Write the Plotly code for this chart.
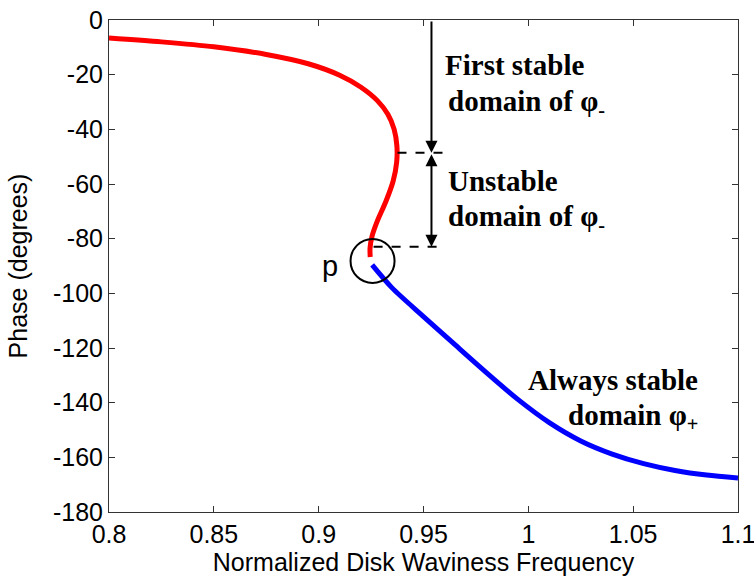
import plotly.graph_objects as go

# First-stable / unstable branch (phi-), red
red_x = [0.800, 0.825, 0.850, 0.875, 0.895, 0.910, 0.920, 0.928, 0.933, 0.936,
         0.9373, 0.9372, 0.9355, 0.932, 0.928, 0.9255, 0.9245, 0.9246]
red_y = [-6.6, -8.0, -9.8, -12.6, -16.0, -20.2, -24.5, -29.5, -34.5, -40.0,
         -46.0, -52.0, -59.0, -66.5, -73.5, -79.0, -83.5, -86.7]

# Always stable branch (phi+), blue
blue_x = [0.9255, 0.935, 0.950, 0.965, 0.980, 0.995, 1.010, 1.025, 1.040, 1.055,
          1.070, 1.085, 1.100]
blue_y = [-89.6, -98.0, -108.5, -118.8, -129.0, -138.8, -147.3, -154.0, -158.8, -162.3,
          -164.8, -166.5, -167.6]

x_ticks = [0.8, 0.85, 0.9, 0.95, 1.0, 1.05, 1.1]
x_tick_labels = ["0.8", "0.85", "0.9", "0.95", "1", "1.05", "1.1"]
y_ticks = [0, -20, -40, -60, -80, -100, -120, -140, -160, -180]
y_tick_labels = ["0", "-20", "-40", "-60", "-80", "-100", "-120", "-140", "-160", "-180"]

fig = go.Figure()
fig.add_trace(go.Scatter(x=red_x, y=red_y, mode="lines",
                         line=dict(color="#ff0000", width=5, shape="spline", smoothing=0.8),
                         showlegend=False, hoverinfo="skip"))
fig.add_trace(go.Scatter(x=blue_x, y=blue_y, mode="lines",
                         line=dict(color="#0000ff", width=5, shape="spline", smoothing=0.8),
                         showlegend=False, hoverinfo="skip"))

# circle around point p
fig.add_shape(type="circle", xref="x", yref="y", x0=0.9152, x1=0.9362, y0=-96.2, y1=-80.1,
              line=dict(color="black", width=2))
# dashed boundary lines
fig.add_shape(type="line", xref="x", yref="y", x0=0.9376, x1=0.9614, y0=-48.6, y1=-48.6,
              line=dict(color="black", width=2, dash="dash"))
fig.add_shape(type="line", xref="x", yref="y", x0=0.9262, x1=0.9600, y0=-83.0, y1=-83.0,
              line=dict(color="black", width=2, dash="dash"))

arrow_x = 0.9538
fig.add_annotation(x=arrow_x, y=-48.6, ax=arrow_x, ay=0, xref="x", yref="y", axref="x", ayref="y",
                   text="", showarrow=True, arrowhead=2, arrowsize=1.2, arrowwidth=2, arrowcolor="black")
fig.add_annotation(x=arrow_x, y=-83.0, ax=arrow_x, ay=-48.6, xref="x", yref="y", axref="x", ayref="y",
                   text="", showarrow=True, arrowhead=2, startarrowhead=2, arrowside="end+start",
                   arrowsize=1.2, startarrowsize=1.2, arrowwidth=2, arrowcolor="black")

serif = dict(family="Liberation Serif", size=29, color="black")
labels = [
    ("<b>First stable</b>", 0.9595, -16.4, "left"),
    ("<b>domain of φ<sub>-</sub></b>", 0.9605, -30.2, "left"),
    ("<b>Unstable</b>", 0.9605, -58.9, "left"),
    ("<b>domain of φ<sub>-</sub></b>", 0.9605, -72.6, "left"),
    ("<b>Always stable</b>", 1.0820, -131.7, "right"),
    ("<b>domain φ<sub>+</sub></b>", 1.0820, -145.3, "right"),
]
for t, x, y, anc in labels:
    fig.add_annotation(x=x, y=y, xref="x", yref="y", text=t, showarrow=False,
                       xanchor=anc, yanchor="middle", font=serif)

fig.add_annotation(x=0.9055, y=-90.0, xref="x", yref="y", text="p", showarrow=False,
                   xanchor="center", yanchor="middle",
                   font=dict(family="Liberation Sans", size=29, color="black"))

axis_common = dict(showgrid=False, zeroline=False, showline=True, linecolor="#333333",
                   linewidth=1, mirror="ticks", ticks="inside", ticklen=6, tickcolor="#333333",
                   automargin=False, ticklabeloverflow="allow",
                   tickfont=dict(family="Liberation Sans", size=25, color="black"))

fig.update_xaxes(range=[0.8, 1.1], tickvals=x_ticks, ticktext=x_tick_labels,
                 title=dict(text="Normalized Disk Waviness Frequency", standoff=5,
                            font=dict(family="Liberation Sans", size=25, color="black")),
                 **axis_common)
fig.update_yaxes(range=[-180, 0], tickvals=y_ticks, ticktext=y_tick_labels,
                 title=dict(text="Phase (degrees)", standoff=18,
                            font=dict(family="Liberation Sans", size=25, color="black")),
                 **axis_common)

fig.update_layout(width=754, height=585, margin=dict(l=109, r=16, t=20, b=73),
                  plot_bgcolor="white", paper_bgcolor="white")

fig.write_html("out.html")
